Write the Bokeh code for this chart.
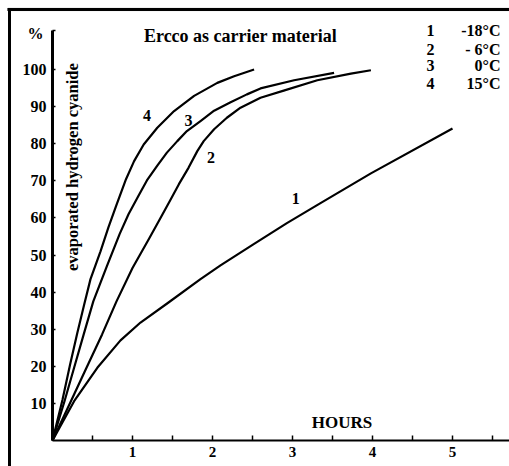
from math import pi
from bokeh.plotting import figure
from bokeh.models import Label, FixedTicker, Range1d, LinearAxis, BoxAnnotation
from bokeh.embed import file_html
from bokeh.resources import INLINE

# ---- data (hours, % evaporated hydrogen cyanide) ----
hours_1 = [0, 0.27, 0.56, 0.85, 1.1, 1.45, 1.85, 2.1, 2.52, 2.93, 3.35, 3.98, 5.0]
pct_1 = [0, 10.6, 19.6, 27.0, 31.8, 37.2, 43.5, 47.2, 53.0, 58.6, 64.0, 72.0, 84.1]

hours_2 = [0, 0.23, 0.425, 0.62, 0.8, 1.0, 1.21, 1.35, 1.47, 1.58, 1.7, 1.81, 1.89,
           2.02, 2.18, 2.35, 2.6, 2.89, 3.31, 3.73, 3.98]
pct_2 = [0, 10.6, 19.6, 28.6, 37.5, 46.5, 54.5, 60.0, 64.7, 69.1, 73.5, 78.0, 80.7,
         83.9, 87.0, 89.7, 92.4, 94.3, 97.1, 98.9, 99.8]

hours_3 = [0, 0.15, 0.27, 0.39, 0.51, 0.68, 0.84, 0.95, 1.07, 1.18, 1.31, 1.43, 1.56,
           1.68, 1.85, 2.02, 2.22, 2.43, 2.6, 3.02, 3.52]
pct_3 = [0, 10.6, 19.6, 28.6, 37.5, 47.0, 55.7, 61.0, 65.8, 70.1, 74.1, 77.6, 80.7,
         83.4, 86.1, 88.9, 91.1, 93.3, 94.9, 97.1, 99.1]

hours_4 = [0, 0.125, 0.22, 0.31, 0.4, 0.475, 0.6, 0.7, 0.8, 0.92, 1.02, 1.14, 1.31,
           1.52, 1.77, 2.06, 2.27, 2.52]
pct_4 = [0, 11.0, 20.5, 29.0, 37.0, 43.5, 51.0, 57.5, 63.5, 70.5, 75.3, 79.8, 84.3,
         88.8, 92.9, 96.4, 98.2, 100.0]

curve_ids = ["1", "2", "3", "4"]
curve_temps = ["-18°C", "- 6°C", "0°C", "15°C"]
x_ticks = [1, 2, 3, 4, 5]
x_minor = [0.5, 1.5, 2.5, 3.5, 4.5, 5.5]
y_ticks = [10, 20, 30, 40, 50, 60, 70, 80, 90, 100]

FONT = "Liberation Serif"

X0, X1 = -0.65, 5.7125
Y0, Y1 = -7.0, 118.6
FRAME_TOP = 116.2
FRAME_LEFT = -0.5375

p = figure(width=509, height=466, output_backend="svg", toolbar_location=None,
           x_range=Range1d(X0, X1), y_range=Range1d(Y0, Y1),
           min_border_left=0, min_border_right=0, min_border_top=0, min_border_bottom=0,
           background_fill_color="white", border_fill_color="white")
p.xgrid.visible = False
p.ygrid.visible = False
p.outline_line_color = None

# main axes, drawn at the origin
xa = p.xaxis[0]
xa.fixed_location = 0
xa.bounds = (0, X1)
xa.ticker = FixedTicker(ticks=x_ticks, minor_ticks=x_minor)
xa.axis_line_width = 2
xa.axis_line_color = "black"
xa.major_tick_in = 5
xa.major_tick_out = 0
xa.minor_tick_in = 5
xa.minor_tick_out = 0
xa.major_tick_line_width = 1.5
xa.minor_tick_line_width = 1.5
xa.major_label_text_font = FONT
xa.major_label_text_font_style = "bold"
xa.major_label_text_font_size = "15px"
xa.major_label_text_color = "black"
xa.major_label_standoff = 6

ya = p.yaxis[0]
ya.fixed_location = 0
ya.bounds = (0, 110.5)
ya.ticker = FixedTicker(ticks=y_ticks + [110.5], minor_ticks=[])
ya.major_label_overrides = {110.5: ""}
ya.axis_line_width = 3
ya.axis_line_color = "black"
ya.major_tick_in = 3
ya.major_tick_out = 0
ya.major_tick_line_width = 1.5
ya.minor_tick_line_color = None
ya.major_label_text_font = FONT
ya.major_label_text_font_style = "bold"
ya.major_label_text_font_size = "16px"
ya.major_label_text_color = "black"
ya.major_label_standoff = 6

# frame lines (top and left edges of the original figure box)
left_frame = LinearAxis(fixed_location=FRAME_LEFT, bounds=(Y0, FRAME_TOP + 0.3),
                        ticker=FixedTicker(ticks=[], minor_ticks=[]),
                        axis_line_width=3, axis_line_color="black",
                        major_tick_line_color=None, minor_tick_line_color=None,
                        major_label_text_font_size="0px")
p.add_layout(left_frame, "left")
top_frame = LinearAxis(fixed_location=FRAME_TOP, bounds=(FRAME_LEFT - 0.02, X1),
                       ticker=FixedTicker(ticks=[], minor_ticks=[]),
                       axis_line_width=3, axis_line_color="black",
                       major_tick_line_color=None, minor_tick_line_color=None,
                       major_label_text_font_size="0px")
p.add_layout(top_frame, "below")
p.add_layout(BoxAnnotation(left=FRAME_LEFT - 0.02, right=X1,
                           bottom=FRAME_TOP - 0.35, top=FRAME_TOP + 0.35,
                           fill_color="black", fill_alpha=1.0,
                           line_color="black", line_width=0.5, level="annotation"))

# curves
for hx, py in [(hours_1, pct_1), (hours_2, pct_2), (hours_3, pct_3), (hours_4, pct_4)]:
    p.line(hx, py, line_width=2.2, line_color="black", line_join="round")

def lab(x, y, text, size="16px", align="center", angle=0.0):
    p.add_layout(Label(x=x, y=y, text=text, text_font=FONT, text_font_style="bold",
                       text_font_size=size, text_align=align, text_baseline="middle",
                       text_color="black", angle=angle))

# curve numbers
lab(3.04, 65.2, curve_ids[0])
lab(1.98, 76.4, curve_ids[1])
lab(1.7, 86.3, curve_ids[2])
lab(1.18, 87.6, curve_ids[3])

# legend
legend_rows = [110.5, 105.5, 101.0, 96.1]
for cid, temp, yy in zip(curve_ids, curve_temps, legend_rows):
    lab(4.725, yy, cid)
    lab(5.6, yy, temp, align="right")

# title, units, axis titles
lab(2.35, 109.0, "Ercco as carrier material", size="18px")
lab(-0.2125, 109.7, "%", size="16px")
lab(0.256, 73.7, "evaporated hydrogen cyanide", size="16.5px", angle=pi / 2)
lab(3.62, 4.9, "HOURS", size="17px")

open("out.html", "w").write(file_html(p, INLINE))
